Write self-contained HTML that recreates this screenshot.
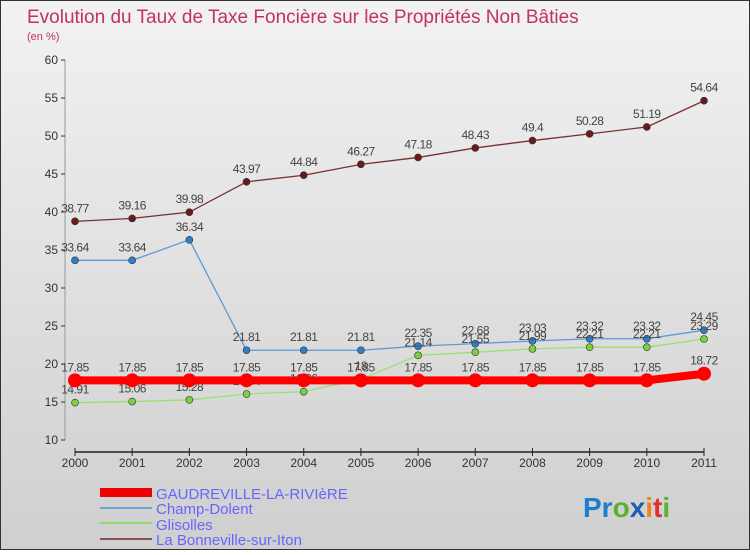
<!DOCTYPE html>
<html><head><meta charset="utf-8"><style>
body{margin:0;width:750px;height:550px;overflow:hidden;font-family:"Liberation Sans",sans-serif}
svg text{font-family:"Liberation Sans",sans-serif}
</style></head><body>
<svg id="c" width="750" height="550" xmlns="http://www.w3.org/2000/svg">
<defs><linearGradient id="bg" x1="0" y1="0" x2="0" y2="1"><stop offset="0" stop-color="#f2f2f2"/><stop offset="1" stop-color="#cfcfcf"/></linearGradient></defs>
<rect x="0.5" y="0.5" width="749" height="549" fill="url(#bg)" stroke="#333"/>
<text x="27" y="23" font-size="19" fill="#c0306a">Evolution du Taux de Taxe Foncière sur les Propriétés Non Bâties</text>
<text x="27" y="40" font-size="11" fill="#c0306a">(en %)</text>
<g id="axes"></g><g id="series"></g>
<g>
<rect x="100" y="488" width="52" height="9" fill="#e00"/>
<line x1="100" y1="508" x2="152" y2="508" stroke="#6fa6d6" stroke-width="2"/>
<line x1="100" y1="523" x2="152" y2="523" stroke="#8fdc6a" stroke-width="2"/>
<line x1="100" y1="539" x2="152" y2="539" stroke="#8a5050" stroke-width="2"/>
<text x="156" y="499" font-size="15" fill="#6666ff">GAUDREVILLE-LA-RIVIèRE</text>
<text x="156" y="514" font-size="15" fill="#6666ff">Champ-Dolent</text>
<text x="156" y="530" font-size="15" fill="#6666ff">Glisolles</text>
<text x="156" y="545" font-size="15" fill="#6666ff">La Bonneville-sur-Iton</text>
</g>
<text x="583" y="517" font-size="28" font-weight="bold"><tspan fill="#1a7fd0">Pr</tspan><tspan fill="#5bb02f">o</tspan><tspan fill="#1a5fb0">x</tspan><tspan fill="#f08020">i</tspan><tspan fill="#e03030">t</tspan><tspan fill="#5bb02f">i</tspan></text>
</svg>
<script>
const years=[2000,2001,2002,2003,2004,2005,2006,2007,2008,2009,2010,2011];
const yTicks=[10,15,20,25,30,35,40,45,50,55,60];
const gaudreville=[17.85,17.85,17.85,17.85,17.85,17.85,17.85,17.85,17.85,17.85,17.85,18.72];
const champDolent=[33.64,33.64,36.34,21.81,21.81,21.81,22.35,22.68,23.03,23.32,23.32,24.45];
const glisolles=[14.91,15.06,15.28,16.04,16.36,18,21.14,21.55,21.99,22.21,22.21,23.29];
const bonneville=[38.77,39.16,39.98,43.97,44.84,46.27,47.18,48.43,49.4,50.28,51.19,54.64];
const NS="http://www.w3.org/2000/svg";
const x=i=>75+i*(704-75)/(years.length-1);
const y=v=>440-(v-10)*7.6;
function mk(p,t,a){const e=document.createElementNS(NS,t);for(const k in a)e.setAttribute(k,a[k]);p.appendChild(e);return e;}
const ax=document.getElementById('axes');
let yl=mk(ax,'line',{x1:65,y1:y(60),x2:65,y2:y(10),stroke:'#999'});


yTicks.forEach(v=>{
 mk(ax,'line',{x1:61,y1:y(v),x2:65,y2:y(v),stroke:'#333'});
 const t=mk(ax,'text',{x:58,y:y(v)+4,'font-size':12,'text-anchor':'end',fill:'#333'});
 t.textContent=v;
 
 
});
let xl=mk(ax,'line',{x1:75,y1:452,x2:704,y2:452,stroke:'#222','stroke-width':1.5});


years.forEach((yr,i)=>{
 mk(ax,'line',{x1:x(i),y1:448,x2:x(i),y2:456,stroke:'#222'});
 const t=mk(ax,'text',{x:x(i),y:467,'font-size':12,'text-anchor':'middle',fill:'#333'});
 t.textContent=yr;
 
 
});
const sg=document.getElementById('series');
function draw(name,data,color,dot,w,r){
 const g=mk(sg,'g',{});
 
 
 mk(g,'polyline',{points:data.map((v,i)=>x(i)+','+y(v)).join(' '),fill:'none',stroke:color,'stroke-width':w});
 data.forEach((v,i)=>{
  const c=mk(g,'circle',{cx:x(i),cy:y(v),r:r,fill:dot,stroke:'#333','stroke-width':r>5?0:0.6});
  
  
  const t=mk(g,'text',{x:x(i),y:y(v)-9,'font-size':12,'text-anchor':'middle',fill:'#444','letter-spacing':'-0.5'});
  t.textContent=v;
  
  
 });
}
draw('bonneville-series',bonneville,'#7a3030','#6a1a1a',1.3,3.5);
draw('champ-dolent-series',champDolent,'#5a9ad6','#2d7fc8',1.3,3.5);
draw('glisolles-series',glisolles,'#98e070','#7cd040',1.3,3.5);
draw('gaudreville-series',gaudreville,'#f00','#f00',8,7);
</script>
</body></html>
